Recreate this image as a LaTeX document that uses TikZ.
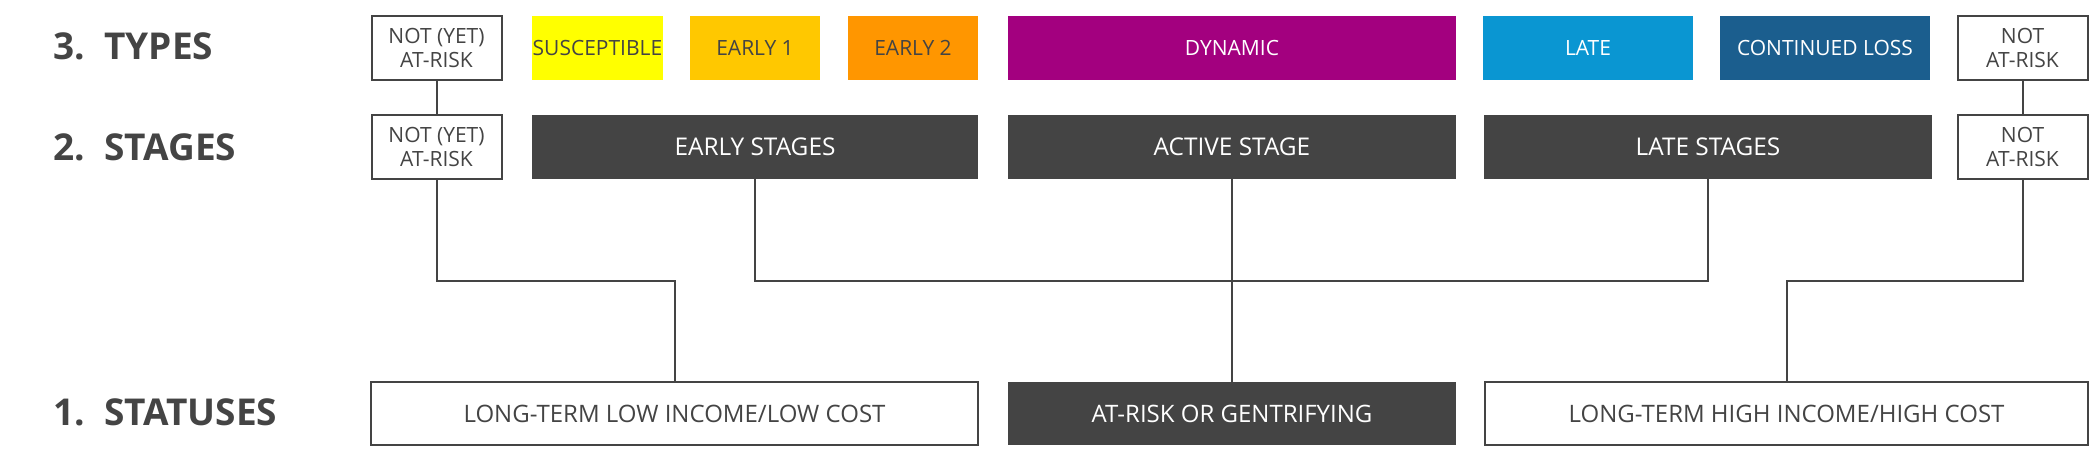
\documentclass[tikz,border=0pt]{standalone}
\usepackage{fontspec}
\setmainfont{Open Sans}
\usepackage{tikz}
\usepackage{xcolor}
\usetikzlibrary{positioning,shapes}

\definecolor{ink}{HTML}{444444}
\definecolor{suscol}{HTML}{FFFF00}
\definecolor{earlyone}{HTML}{FFC800}
\definecolor{earlytwo}{HTML}{FF9600}
\definecolor{dyncol}{HTML}{A3007F}
\definecolor{latecol}{HTML}{0A96D2}
\definecolor{losscol}{HTML}{1B5E8E}

\begin{document}
\begin{tikzpicture}[x=0.5pt,y=-0.5pt]
\tikzstyle{every node}+=[inner sep=0pt,font=\fontsize{10.5}{12}\selectfont]
\tikzstyle{head}=[anchor=west,text=ink,font=\fontsize{18.5}{20}\selectfont\bfseries]
\tikzstyle{typebox}=[minimum height=32pt,align=center,font=\fontsize{10.5}{12}\selectfont]
\tikzstyle{stagebox}=[minimum height=32pt,align=center,fill=ink,text=white,font=\fontsize{12.2}{14}\selectfont]
\tikzstyle{openbox}=[draw=ink,line width=1pt,fill=white,text=ink,align=center]
\tikzstyle{link}=[draw=ink,line width=1pt]
\useasboundingbox (0,0) rectangle (2100,458);

% headings
\node[head] (h3) at (53,46) {3.\ \ TYPES};
\node[head] (h2) at (53,147) {2.\ \ STAGES};
\node[head] (h1) at (53,412) {1.\ \ STATUSES};

% types
\node[typebox,openbox,minimum width=65pt] (tnotyet) at (436.5,48) {NOT (YET)\\AT-RISK};
\node[typebox,fill=suscol,text=ink,minimum width=65.5pt] (tsus) at (597.5,48) {SUSCEPTIBLE};
\node[typebox,fill=earlyone,text=ink,minimum width=65pt] (tearlyone) at (755,48) {EARLY 1};
\node[typebox,fill=earlytwo,text=ink,minimum width=65pt] (tearlytwo) at (913,48) {EARLY 2};
\node[typebox,fill=dyncol,text=white,minimum width=224pt] (tdyn) at (1232,48) {DYNAMIC};
\node[typebox,fill=latecol,text=white,minimum width=105pt] (tlate) at (1588,48) {LATE};
\node[typebox,fill=losscol,text=white,minimum width=105pt] (tloss) at (1825,48) {CONTINUED LOSS};
\node[typebox,openbox,minimum width=65pt] (tnot) at (2022.5,48) {NOT\\AT-RISK};

% stages
\node[typebox,openbox,minimum width=65pt] (snotyet) at (436.5,147) {NOT (YET)\\AT-RISK};
\node[stagebox,minimum width=223pt] (searly) at (755,147) {EARLY STAGES};
\node[stagebox,minimum width=224pt] (sactive) at (1232,147) {ACTIVE STAGE};
\node[stagebox,minimum width=224pt] (slate) at (1708,147) {LATE STAGES};
\node[typebox,openbox,minimum width=65pt] (snot) at (2022.5,147) {NOT\\AT-RISK};

% statuses
\node[openbox,minimum width=303.5pt,minimum height=31.5pt,font=\fontsize{12}{14}\selectfont] (stlow) at (674.5,413.5) {LONG-TERM LOW INCOME/LOW COST};
\node[stagebox,minimum width=224pt,minimum height=31.5pt,font=\fontsize{12}{14}\selectfont] (strisk) at (1232,413.5) {AT-RISK OR GENTRIFYING};
\node[openbox,minimum width=301.5pt,minimum height=31.5pt,font=\fontsize{12}{14}\selectfont] (sthigh) at (1786.5,413.5) {LONG-TERM HIGH INCOME/HIGH COST};

% connectors
\coordinate (bar) at (0,281);
\draw[link] (tnotyet) -- (snotyet);
\draw[link] (tnot) -- (snot);
\draw[link] (snotyet.south) -- (snotyet.south |- bar) -| (stlow.north);
\draw[link] (searly.south) -- (searly.south |- bar) -| (slate.south);
\draw[link] (sactive.south) -- (strisk.north);
\draw[link] (snot.south) -- (snot.south |- bar) -| (sthigh.north);
\end{tikzpicture}
\end{document}
